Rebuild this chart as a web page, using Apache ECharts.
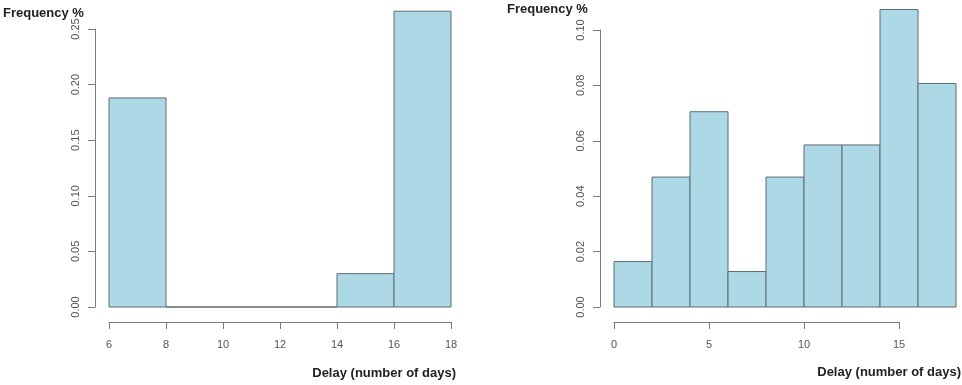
<!DOCTYPE html>
<html>
<head>
    <meta charset="UTF-8">
    <title>Delay histograms</title>
    <script src="https://cdn.jsdelivr.net/npm/echarts@6/dist/echarts.min.js"></script>
    <style>
        body { margin: 0; background: #fff; }
        #main { width: 962px; height: 385px; }
    </style>
</head>
<body>
<div id="main"></div>
<script type="text/javascript">

    // left histogram: bin edges and density per bin
    var leftBreaks = [6, 8, 10, 12, 14, 16, 18];
    var leftDensity = [0.188, 0, 0, 0, 0.030, 0.266];
    var leftYTicks = [0, 0.25, 0.05];   // min, max, step
    var leftXTicks = [6, 18, 2];

    // right histogram
    var rightBreaks = [0, 2, 4, 6, 8, 10, 12, 14, 16, 18];
    var rightDensity = [0.0164, 0.0469, 0.0705, 0.0128, 0.0469, 0.0585, 0.0585, 0.1074, 0.0807];
    var rightYTicks = [0, 0.10, 0.02];
    var rightXTicks = [0, 15, 5];

    var yTitle = 'Frequency %';
    var xTitle = 'Delay (number of days)';

    function toBins(breaks, dens) {
        var out = [];
        for (var i = 0; i < dens.length; i++) {
            out.push([breaks[i], breaks[i + 1], dens[i]]);
        }
        return out;
    }

    function renderBin(params, api) {
        var p0 = api.coord([api.value(0), api.value(2)]);
        var p1 = api.coord([api.value(1), 0]);
        return {
            type: 'rect',
            shape: {x: p0[0], y: p0[1], width: p1[0] - p0[0], height: p1[1] - p0[1]},
            style: {fill: '#add8e6', stroke: '#5f6b70', lineWidth: 1}
        };
    }

    var labelStyle = {color: '#555', fontSize: 11, fontFamily: 'Liberation Sans'};
    var lineStyle = {color: '#7a7a7a', width: 1};

    var grids = [], xAxes = [], yAxes = [], series = [];

    // one panel = data grid (hidden axes) + separate R-style y and x axes
    function addPanel(px, breaks, dens, yt, xt) {
        var g = grids.length;
        var plotTop = 2, zeroY = 307, yTop = px.yTop;
        var yMax = yt[1] * (zeroY - plotTop) / (zeroY - yTop);
        var xMin = breaks[0], xMax = breaks[breaks.length - 1];
        var unit = px.width / (xMax - xMin);

        // data grid
        grids.push({left: px.left, top: plotTop, width: px.width, height: zeroY - plotTop});
        xAxes.push({gridIndex: g, type: 'value', min: xMin, max: xMax, show: false});
        yAxes.push({gridIndex: g, type: 'value', min: 0, max: yMax, show: false});
        series.push({
            type: 'custom', xAxisIndex: xAxes.length - 1, yAxisIndex: yAxes.length - 1,
            renderItem: renderBin, data: toBins(breaks, dens), silent: true
        });

        // y axis
        grids.push({left: px.yAxisX, top: yTop, width: 10, height: zeroY - yTop});
        xAxes.push({gridIndex: g + 1, type: 'value', show: false});
        yAxes.push({
            gridIndex: g + 1, type: 'value', min: yt[0], max: yt[1], interval: yt[2],
            axisLine: {show: true, lineStyle: lineStyle},
            axisTick: {show: true, length: 7, lineStyle: lineStyle},
            splitLine: {show: false},
            axisLabel: Object.assign({rotate: 90, margin: 14, formatter: function (v) {
                return v.toFixed(2);
            }}, labelStyle)
        });

        // x axis
        var xw = (xt[1] - xt[0]) * unit;
        grids.push({left: px.left + (xt[0] - xMin) * unit, top: 300, width: xw, height: 22});
        xAxes.push({
            gridIndex: g + 2, type: 'value', position: 'bottom', min: xt[0], max: xt[1], interval: xt[2],
            axisLine: {show: true, onZero: false, lineStyle: lineStyle},
            axisTick: {show: true, length: 7, lineStyle: lineStyle},
            splitLine: {show: false},
            axisLabel: Object.assign({margin: 17, showMinLabel: true, showMaxLabel: true}, labelStyle)
        });
        yAxes.push({gridIndex: g + 2, type: 'value', show: false});
    }

    addPanel({left: 109, width: 342, yTop: 29, yAxisX: 95}, leftBreaks, leftDensity, leftYTicks, leftXTicks);
    addPanel({left: 614, width: 342, yTop: 30, yAxisX: 600}, rightBreaks, rightDensity, rightYTicks, rightXTicks);

    var titleFont = {fontSize: 13, fontWeight: 'bold', fontFamily: 'Liberation Sans', fill: '#222'};

    var myChart = echarts.init(document.getElementById('main'));
    var option = {
        animation: false,
        grid: grids,
        xAxis: xAxes,
        yAxis: yAxes,
        series: series,
        graphic: [
            {type: 'text', left: 3, top: 7, style: Object.assign({text: yTitle}, titleFont)},
            {type: 'text', left: 507, top: 3, style: Object.assign({text: yTitle}, titleFont)},
            {type: 'text', right: 962 - 456, top: 367, style: Object.assign({text: xTitle}, titleFont)},
            {type: 'text', right: 1, top: 366, style: Object.assign({text: xTitle}, titleFont)}
        ]
    };
    myChart.setOption(option);

</script>
</body>
</html>
